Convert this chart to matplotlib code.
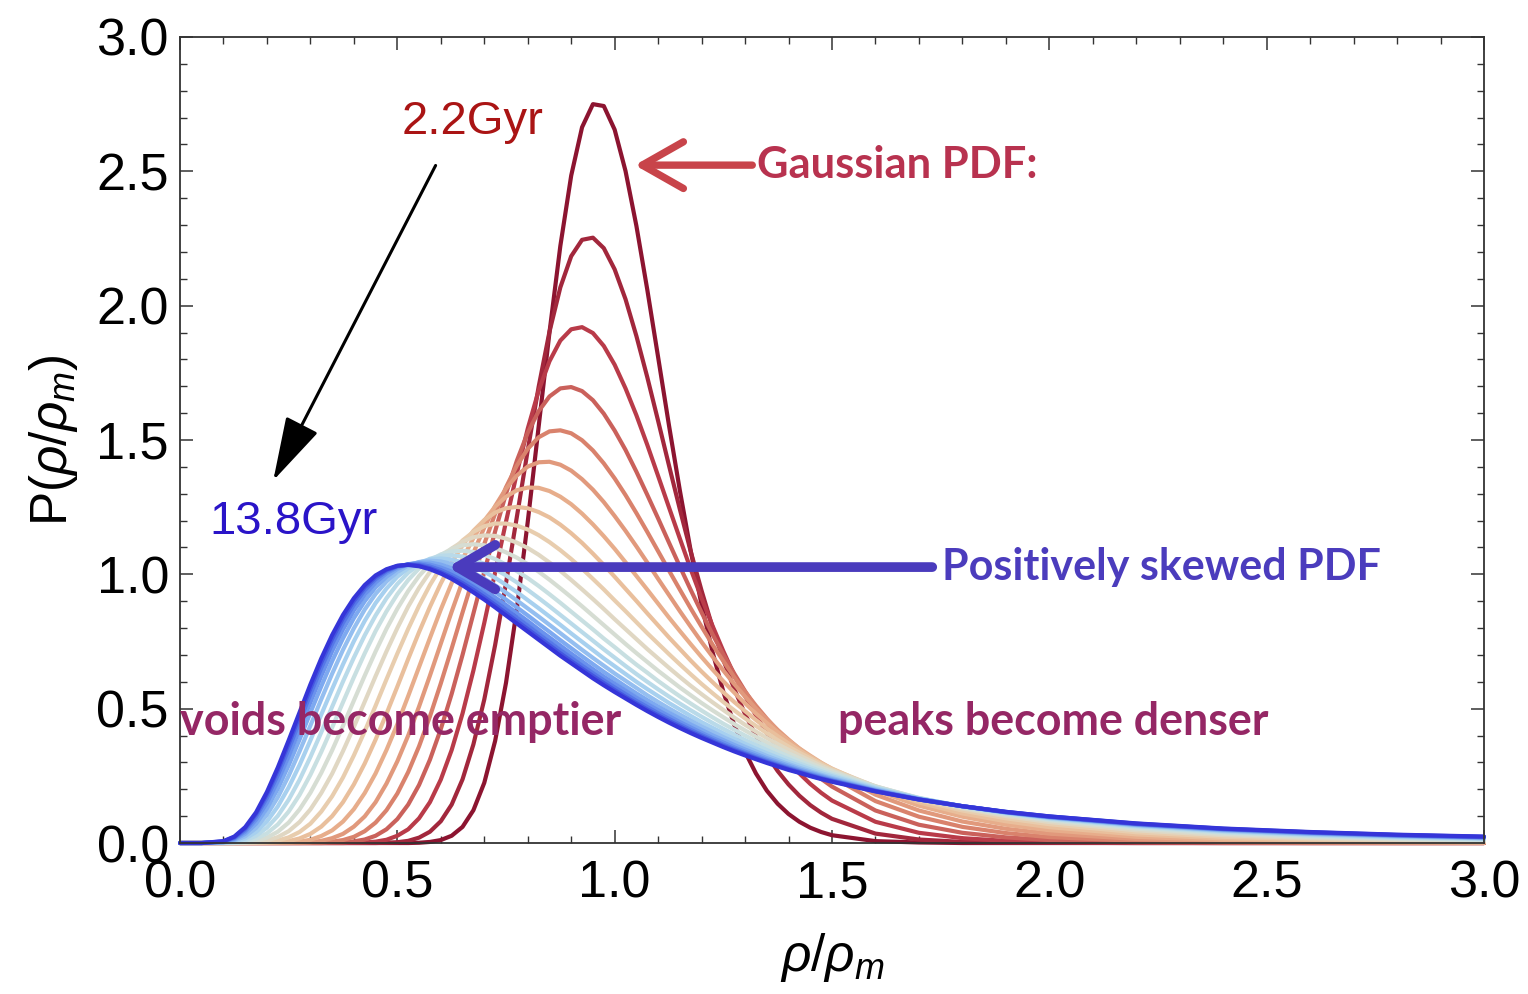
# density PDF evolution: 2.2 Gyr (Gaussian-like) to 13.8 Gyr (positively skewed)
import numpy as np
import matplotlib
matplotlib.use('Agg')
import matplotlib.pyplot as plt
from matplotlib.colors import LinearSegmentedColormap
from matplotlib.ticker import FormatStrFormatter

# rho/rho_m sample points shared by every curve
rho = [0.0, 0.05, 0.1, 0.125, 0.15, 0.175, 0.2, 0.225, 0.25, 0.275, 0.3, 0.325, 0.35,
       0.375, 0.4, 0.425, 0.45, 0.475, 0.5, 0.525, 0.55, 0.575, 0.6, 0.625, 0.65, 0.675,
       0.7, 0.725, 0.75, 0.775, 0.8, 0.825, 0.85, 0.875, 0.9, 0.925, 0.95, 0.975, 1.0,
       1.025, 1.05, 1.075, 1.1, 1.125, 1.15, 1.175, 1.2, 1.225, 1.25, 1.275, 1.3, 1.325,
       1.35, 1.375, 1.4, 1.425, 1.45, 1.475, 1.5, 1.6, 1.7, 1.8, 1.9, 2.0, 2.2, 2.4,
       2.6, 2.8, 3.0]

# P(rho/rho_m), in units of 0.001, oldest (2.2Gyr) first
p00 = [0, 0, 0, 0, 0, 0, 0, 0, 0, 0, 0, 0, 0, 0, 0, 0, 0, 0, 0, 0,
       1, 4, 11, 27, 60, 122, 224, 380, 596, 871, 1195, 1548, 1900, 2222, 2484, 2664,
       2750, 2743, 2655, 2501, 2297, 2060, 1808, 1554, 1312, 1087, 887, 712, 563, 440,
       339, 259, 195, 146, 108, 79, 57, 41, 29, 7, 2, 0, 0, 0, 0, 0, 0, 0, 0]
p01 = [0, 0, 0, 0, 0, 0, 0, 0, 0, 0, 0, 0, 0, 0, 0, 0, 0,
       1, 3, 8, 20, 42, 81, 143, 237, 367, 534, 737, 967, 1214, 1462, 1697, 1903, 2068,
       2184, 2245, 2253, 2214, 2135, 2024, 1887, 1734, 1571, 1405, 1242, 1085, 939, 804,
       682, 574, 480, 398, 327, 268, 218, 176, 141, 113, 90, 35, 13, 4, 2, 1,
       0, 0, 0, 0, 0]
p02 = [0, 0, 0, 0, 0, 0, 0, 0, 0, 0, 0, 0, 0, 0,
       1, 2, 5, 12, 27, 51, 92, 152, 236, 346, 482, 642, 819, 1007, 1196, 1377, 1542,
       1683, 1793, 1870, 1912, 1920, 1898, 1850, 1780, 1692, 1592, 1482, 1366, 1249,
       1133, 1019, 911, 809, 714, 626, 547, 475, 410, 353, 303, 259, 220, 187, 158, 79,
       38, 18, 8, 4, 1, 0, 0, 0, 0]
p03 = [0, 0, 0, 0, 0, 0, 0, 0, 0, 0, 0, 0,
       1, 2, 6, 13, 27, 51, 89, 143, 216, 310, 424, 555, 700, 854, 1009, 1160, 1300,
       1423, 1527, 1607, 1662, 1692, 1697, 1682, 1648, 1598, 1535, 1463, 1382, 1296,
       1208, 1118, 1029, 942, 858, 777, 702, 631, 565, 504, 448, 397, 351, 310, 273, 239,
       210, 121, 68, 38, 21, 11, 3, 1, 0, 0, 0]
p04 = [0, 0, 0, 0, 0, 0, 0, 0, 0, 0,
       1, 2, 5, 11, 23, 44, 76, 122, 184, 264, 360, 471, 594, 724, 858, 989, 1113, 1226,
       1324, 1405, 1467, 1510, 1532, 1536, 1525, 1499, 1461, 1413, 1357, 1295, 1228,
       1158, 1086, 1014, 943, 873, 805, 739, 677, 618, 563, 511, 463, 419, 378, 340, 306,
       274, 246, 156, 98, 60, 37, 22, 8, 3, 1, 0, 0]
p05 = [0, 0, 0, 0, 0, 0, 0, 0, 0,
       1, 3, 8, 18, 34, 61, 99, 152, 221, 304, 400, 508, 623, 742, 861, 974, 1080, 1174,
       1254, 1319, 1368, 1401, 1417, 1419, 1408, 1386, 1354, 1315, 1269, 1217, 1162,
       1104, 1044, 983, 923, 863, 805, 748, 694, 642, 592, 545, 501, 460, 421, 385, 351,
       320, 292, 265, 180, 121, 80, 53, 35, 15, 6, 3, 1, 1]
p06 = [0, 0, 0, 0, 0, 0, 0,
       1, 2, 5, 12, 26, 47, 80, 126, 186, 259, 346, 442, 547, 655, 763, 869, 967, 1057,
       1135, 1200, 1252, 1289, 1313, 1323, 1322, 1310, 1289, 1261, 1226, 1186, 1142,
       1095, 1045, 994, 943, 891, 839, 789, 740, 692, 646, 602, 560, 520, 482, 447, 413,
       382, 352, 325, 299, 275, 196, 139, 98, 68, 48, 23, 11, 6, 3, 1]
p07 = [0, 0, 0, 0, 0, 0,
       1, 3, 7, 17, 34, 61, 100, 152, 218, 296, 385, 481, 582, 685, 785, 879, 966, 1043,
       1108, 1162, 1202, 1230, 1246, 1251, 1246, 1232, 1212, 1185, 1153, 1117, 1077,
       1035, 991, 946, 901, 855, 810, 765, 722, 679, 638, 599, 561, 525, 491, 458, 427,
       398, 371, 345, 321, 298, 277, 205, 151, 110, 81, 59, 32, 17, 9, 5, 3]
p08 = [0, 0, 0, 0, 0,
       1, 3, 9, 21, 41, 72, 117, 174, 244, 326, 416, 511, 609, 705, 797, 883, 960, 1026,
       1082, 1126, 1158, 1179, 1189, 1189, 1181, 1167, 1146, 1120, 1090, 1057, 1021, 983,
       944, 903, 863, 822, 781, 742, 703, 665, 628, 592, 558, 525, 494, 464, 436, 409,
       383, 359, 336, 315, 294, 275, 210, 159, 121, 92, 70, 40, 23, 14, 8, 5]
p09 = [0, 0, 0, 0,
       1, 3, 9, 22, 44, 78, 125, 186, 258, 342, 432, 526, 621, 713, 800, 880, 950, 1009,
       1058, 1096, 1122, 1138, 1145, 1143, 1133, 1118, 1098, 1073, 1044, 1013, 979, 944,
       908, 871, 833, 796, 759, 722, 687, 652, 618, 585, 554, 524, 495, 467, 440, 415,
       391, 368, 347, 326, 307, 288, 271, 211, 165, 128, 100, 78, 47, 29, 18, 12, 7]
p10 = [0, 0, 0, 0,
       2, 8, 20, 42, 76, 125, 187, 261, 345, 436, 530, 623, 713, 797, 872, 938, 994, 1038,
       1072, 1095, 1108, 1112, 1108, 1098, 1082, 1062, 1038, 1010, 980, 948, 915, 881,
       846, 811, 776, 741, 707, 674, 641, 610, 579, 550, 521, 494, 468, 443, 419, 396,
       374, 354, 334, 316, 298, 281, 266, 211, 167, 132, 105, 84, 53, 34, 22, 15, 10]
p11 = [0, 0, 0,
       1, 6, 16, 36, 69, 117, 179, 254, 339, 430, 524, 617, 706, 789, 862, 926, 979, 1022,
       1053, 1074, 1085, 1088, 1083, 1072, 1057, 1036, 1012, 986, 957, 926, 894, 861, 828,
       795, 761, 729, 696, 664, 634, 603, 574, 546, 519, 493, 468, 444, 422, 400, 379,
       359, 340, 322, 305, 289, 274, 259, 209, 168, 135, 109, 88, 58, 39, 26, 18, 12]
p12 = [0, 0,
       1, 3, 10, 27, 57, 101, 161, 235, 320, 412, 507, 601, 690, 773, 847, 911, 964, 1006,
       1037, 1058, 1069, 1071, 1066, 1055, 1039, 1019, 996, 970, 942, 912, 881, 849, 817,
       785, 753, 721, 690, 659, 629, 600, 572, 545, 519, 494, 470, 447, 425, 404, 383,
       364, 346, 328, 312, 296, 281, 267, 253, 206, 167, 136, 111, 91, 62, 42, 29, 20, 15]
p13 = [0, 0,
       1, 5, 17, 41, 80, 136, 207, 290, 382, 478, 573, 665, 751, 827, 893, 947, 991, 1023,
       1044, 1056, 1059, 1055, 1044, 1029, 1010, 987, 961, 934, 904, 874, 843, 812, 780,
       749, 718, 687, 658, 629, 600, 573, 547, 521, 497, 473, 450, 429, 408, 388, 369,
       351, 334, 318, 302, 288, 274, 260, 248, 203, 166, 137, 113, 93, 64, 45, 32, 23, 17]
p14 = [0, 0,
       2, 9, 25, 56, 105, 170, 250, 341, 437, 535, 630, 719, 799, 869, 927, 973, 1009,
       1033, 1046, 1051, 1048, 1039, 1024, 1006, 984, 959, 932, 903, 873, 843, 812, 781,
       750, 719, 689, 660, 631, 604, 577, 550, 525, 501, 478, 456, 434, 414, 394, 376,
       358, 341, 324, 309, 294, 280, 267, 254, 242, 200, 165, 137, 114, 95, 67, 47, 34,
       25, 18]
p15 = [0, 0,
       3, 12, 34, 72, 129, 202, 289, 385, 485, 583, 677, 762, 837, 900, 952, 991, 1020,
       1037, 1044, 1044, 1036, 1023, 1006, 985, 961, 934, 906, 877, 847, 816, 786, 755,
       725, 695, 666, 637, 610, 583, 557, 532, 508, 485, 463, 441, 421, 401, 383, 365,
       348, 332, 316, 302, 288, 274, 262, 250, 238, 197, 164, 137, 114, 96, 68, 49, 36,
       27, 20]
p16 = [0, 0,
       4, 16, 42, 87, 150, 231, 323, 423, 524, 622, 714, 795, 866, 924, 970, 1004, 1026,
       1038, 1041, 1036, 1025, 1010, 990, 967, 942, 914, 886, 856, 826, 795, 765, 735,
       705, 676, 647, 619, 593, 567, 541, 517, 494, 472, 450, 430, 410, 391, 374, 356,
       340, 325, 310, 296, 282, 269, 257, 246, 234, 195, 163, 137, 115, 97, 70, 51, 38,
       28, 21]
p17 = [0, 0,
       5, 19, 49, 99, 168, 253, 350, 452, 554, 652, 741, 820, 887, 941, 982, 1011, 1030,
       1037, 1037, 1029, 1016, 998, 977, 953, 926, 898, 869, 839, 809, 778, 748, 718,
       689, 660, 632, 605, 579, 554, 529, 506, 483, 462, 441, 421, 402, 384, 366, 350,
       334, 319, 305, 291, 278, 266, 254, 242, 232, 194, 162, 137, 115, 98, 71, 52, 39,
       29, 22]
p18 = [0, 0,
       6, 22, 55, 108, 181, 270, 369, 472, 575, 672, 760, 837, 901, 952, 990, 1016, 1031,
       1036, 1033, 1023, 1008, 989, 967, 942, 915, 886, 856, 826, 796, 766, 736, 706,
       677, 649, 622, 595, 569, 544, 520, 497, 475, 454, 434, 414, 396, 378, 361, 345,
       330, 315, 301, 288, 275, 263, 251, 240, 230, 193, 162, 137, 116, 99, 72, 53, 40,
       30, 23]
p19 = [0, 0,
       7, 24, 59, 114, 190, 281, 382, 486, 590, 687, 774, 849, 911, 960, 996, 1019, 1032,
       1035, 1030, 1019, 1003, 983, 959, 933, 906, 877, 847, 817, 787, 757, 727, 697,
       669, 641, 613, 587, 562, 538, 514, 491, 469, 448, 428, 409, 391, 374, 357, 341,
       326, 312, 298, 285, 272, 261, 249, 238, 228, 192, 162, 137, 116, 99, 73, 54, 41,
       31, 24]

curves = [p00, p01, p02, p03, p04, p05, p06, p07, p08, p09,
          p10, p11, p12, p13, p14, p15, p16, p17, p18, p19]

# Mathematica-ish ThermometerColors, red (early) -> blue (late)
thermo = LinearSegmentedColormap.from_list('thermo', [
    '#8c1430', '#b83a48', '#d87f6a', '#e6a987', '#ebc9a6', '#dcdccd',
    '#c3e0e6', '#a3cdf0', '#7aa6f0', '#5577e8', '#3535d8'])

plt.rcParams['mathtext.fontset'] = 'custom'
plt.rcParams['mathtext.rm'] = 'Liberation Sans'
plt.rcParams['mathtext.it'] = 'Liberation Sans:italic'

fig = plt.figure(figsize=(15.28, 9.94), dpi=100)
ax = fig.add_axes([0.1178, 0.1519, 0.8534, 0.8109])

n = len(curves)
for k, c in enumerate(curves):
    ax.plot(rho, np.array(c) / 1000.0, color=thermo(k / (n - 1)), lw=3.0,
            solid_capstyle='round', clip_on=False)

ax.set_xlim(0, 3)
ax.set_ylim(0, 3)
ax.set_xticks(np.arange(0, 3.01, 0.5))
ax.set_yticks(np.arange(0, 3.01, 0.5))
ax.set_xticks(np.arange(0, 3.01, 0.1), minor=True)
ax.set_yticks(np.arange(0, 3.01, 0.1), minor=True)
ax.xaxis.set_major_formatter(FormatStrFormatter('%.1f'))
ax.yaxis.set_major_formatter(FormatStrFormatter('%.1f'))
ax.tick_params(which='both', direction='in', top=True, right=True, color='#333333')
ax.tick_params(which='major', length=9.4, width=1.1, labelsize=37.5, pad=8,
               labelfontfamily='Liberation Sans')
ax.tick_params(axis='x', which='major', pad=12)
ax.tick_params(which='minor', length=5, width=1.0)
for sp in ax.spines.values():
    sp.set_color('#333333')
    sp.set_linewidth(1.3)

ax.set_ylabel(r'P($\rho/\rho_m$)', fontsize=37, family='Liberation Sans', labelpad=12)
ax.set_xlabel(r'$\rho/\rho_m$', fontsize=37, family='Liberation Sans', labelpad=16)

# annotations
bold = dict(family='Lato', weight='bold')
ax.annotate('', xy=(1.040, 2.523), xytext=(1.323, 2.523),
            arrowprops=dict(arrowstyle='->, head_length=0.74, head_width=0.42',
                            color='#c8444a', lw=5.3, mutation_scale=40))
ax.text(1.327, 2.523, 'Gaussian PDF:', color='#b8324f', va='center', ha='left',
        fontsize=31.3, **bold)
ax.annotate('', xy=(0.610, 1.027), xytext=(1.737, 1.027),
            arrowprops=dict(arrowstyle='->, head_length=0.68, head_width=0.4',
                            color='#4a3bbd', lw=7, mutation_scale=40))
ax.text(1.753, 1.027, 'Positively skewed PDF', color='#4b3cbd', va='center', ha='left',
        fontsize=31, **bold)
ax.text(0.0, 0.45, 'voids become emptier', color='#952765', va='center', ha='left',
        fontsize=32.3, **bold)
ax.text(1.514, 0.45, 'peaks become denser', color='#952765', va='center', ha='left',
        fontsize=32.3, **bold)
ax.text(0.672, 2.683, '2.2Gyr', color='#aa1414', va='center', ha='center',
        fontsize=34, family='Liberation Sans')
ax.text(0.26, 1.195, '13.8Gyr', color='#2a14c8', va='center', ha='center',
        fontsize=34, family='Liberation Sans')
ax.annotate('', xy=(0.2116, 1.340), xytext=(0.591, 2.531),
            arrowprops=dict(arrowstyle='-|>, head_length=1.6, head_width=0.45',
                            color='black', lw=2.2, mutation_scale=25))

fig.savefig('out.png', dpi=100)
